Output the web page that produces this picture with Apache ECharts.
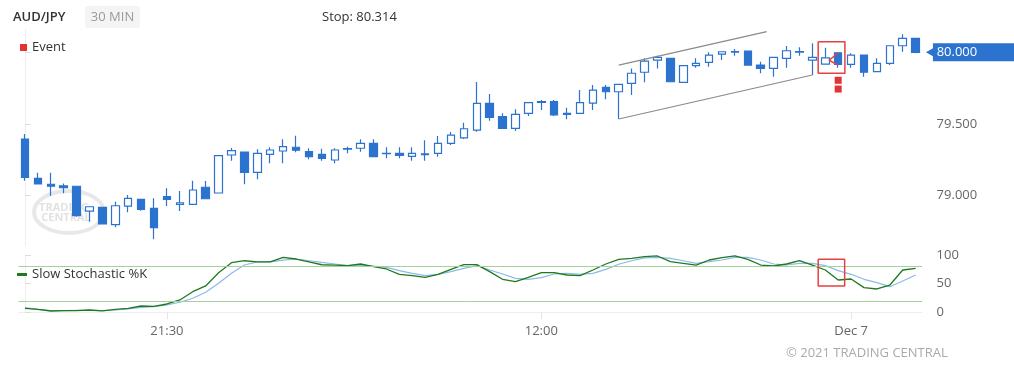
<!DOCTYPE html>
<html>
<head>
<meta charset="utf-8">
<script src="https://cdn.jsdelivr.net/npm/echarts@6/dist/echarts.min.js"></script>
<style>
html,body{margin:0;padding:0;background:#fff;}
#main{width:1014px;height:367px;}
</style>
</head>
<body>
<div id="main"></div>
<script>
// ---------- data ----------
const symbolName = 'AUD/JPY';
const timeframe = '30 MIN';
const stopLevel = 80.314;

const startTime = Date.UTC(2021, 11, 5, 16, 0);
const categories = Array.from({length: 70}, (_, i) => {
  const d = new Date(startTime + i * 30 * 60000);
  const p = n => String(n).padStart(2, '0');
  return d.getUTCFullYear() + '-' + p(d.getUTCMonth() + 1) + '-' + p(d.getUTCDate()) + ' ' + p(d.getUTCHours()) + ':' + p(d.getUTCMinutes());
});
const tickCategories = ['2021-12-05 21:30', '2021-12-06 12:00', '2021-12-07 00:00'];
const tickLabels = ['21:30', '12:00', 'Dec 7'];

const opens = [79.395,79.121,79.080,79.068,79.066,78.893,78.919,78.798,78.928,78.975,
  78.912,78.993,78.940,78.940,79.059,79.019,79.284,79.305,79.163,79.289,
  79.312,79.338,79.307,79.289,79.249,79.324,79.331,79.365,79.296,79.296,
  79.275,79.287,79.296,79.365,79.404,79.458,79.644,79.551,79.470,79.575,
  79.651,79.656,79.575,79.575,79.646,79.756,79.725,79.784,79.861,79.946,
  79.958,79.791,79.907,79.930,79.988,80.002,80.009,79.911,79.888,79.958,
  80.002,79.946,79.918,79.997,79.916,79.981,79.865,79.923,80.046,80.098];
const closes = [79.128,79.082,79.066,79.056,78.861,78.923,78.803,78.930,78.982,78.905,
  78.777,78.975,78.951,79.040,78.979,79.279,79.314,79.163,79.296,79.319,
  79.342,79.317,79.272,79.261,79.319,79.328,79.365,79.272,79.294,79.282,
  79.296,79.292,79.365,79.423,79.467,79.644,79.547,79.470,79.568,79.649,
  79.656,79.563,79.568,79.649,79.737,79.725,79.777,79.854,79.939,79.965,
  79.795,79.907,79.923,79.981,80.004,80.006,79.911,79.888,79.965,80.011,
  80.006,79.965,79.962,79.916,79.981,79.861,79.923,80.046,80.098,80.000];
const lows = [79.105,79.082,79.000,79.017,78.854,78.819,78.803,78.780,78.884,78.895,
  78.696,78.928,78.893,78.940,78.975,79.019,79.244,79.080,79.114,79.226,
  79.226,79.303,79.254,79.244,79.226,79.296,79.307,79.272,79.261,79.261,
  79.244,79.244,79.272,79.354,79.395,79.446,79.523,79.470,79.451,79.556,
  79.598,79.556,79.533,79.575,79.598,79.672,79.535,79.702,79.791,79.888,
  79.795,79.791,79.893,79.900,79.946,79.976,79.911,79.854,79.830,79.893,
  79.976,79.842,79.918,79.893,79.893,79.830,79.865,79.911,80.004,79.993];
const highs = [79.430,79.160,79.160,79.086,79.066,78.923,78.919,78.958,79.005,78.975,
  78.982,79.052,79.033,79.105,79.103,79.279,79.333,79.305,79.324,79.338,
  79.393,79.418,79.331,79.328,79.331,79.342,79.393,79.393,79.338,79.338,
  79.338,79.386,79.416,79.444,79.509,79.793,79.709,79.575,79.603,79.649,
  79.667,79.667,79.614,79.737,79.772,79.772,79.777,79.888,79.958,79.976,
  79.958,79.907,79.958,80.000,80.004,80.023,80.009,79.934,79.965,80.044,
  80.035,80.063,80.032,79.997,79.993,79.981,79.958,80.046,80.126,80.098];

const stochK = [7,5,2.3,3,3,4,2.5,5,7,11,10.5,14.5,21.5,36,46,69,86.6,90,88,88,96,93,88,83,
  82.5,81.4,84.3,79.6,75.6,66.3,63.9,61,66.3,75,83.1,83.1,70.9,57.6,53.4,61,69.1,69.1,65.1,63.9,73.8,84.3,92.5,94.2,
  97,98.3,88.3,85.5,82.5,91.3,95.3,98.3,92.5,82.5,80.8,84.3,90,82.5,73.8,56.4,58.1,43,40.7,47.6,73.8,76.8];
const stochD = [8,5,3,3,3.5,3.5,3,4,6,8.5,10,13,17.5,24.5,35,50.6,68,82.5,88,88,91,93,90,87,
  84.3,81.4,82.5,80.8,78.5,72.7,68,63.9,66.3,70.9,76.7,81.4,73.8,66.9,59.3,57.6,60.4,66.9,68,66.3,68,75,83.8,90,
  95,96,94.2,90,85.5,88.3,91.3,96,96,91.3,84.3,82.5,85.5,85.5,81.4,72.7,66.3,57.6,51.7,44.7,54.6,65.1];
const stochLevels = [80, 20];

const priceTicks = [79.0, 79.5, 80.0];
const stochTicks = [0, 50, 100];

const eventPoints = [[63, 79.805], [63, 79.744]];
// drawing annotations in data space (index, price)
const channelUpper = [[46, 79.911], [57.46, 80.144]];
const channelLower = [[46, 79.535], [61, 79.842]];
const alertBox = [[61.45, 80.074], [63.52, 80.074], [63.52, 79.854], [61.45, 79.854], [61.45, 80.074]];
const alertWedge = [[62.95, 79.993], [62.3, 79.945], [62.95, 79.913]];
const stochBox = [[61.45, 92.5], [63.5, 92.5], [63.5, 45.9], [61.45, 45.9], [61.45, 92.5]];

// ---------- chart ----------
const FONT = 'Open Sans';
const BLUE = '#2b73cf';
const RED = '#e8403f';
const lastIdx = closes.length - 1;
const lastClose = closes[lastIdx];
const candleData = opens.map((o, i) => [o, closes[i], lows[i], highs[i]]);

const chart = echarts.init(document.getElementById('main'), null, {renderer: 'canvas'});
const gridL = 18.5, gridR = 91.9;

const option = {
  animation: false,
  textStyle: {fontFamily: FONT},
  grid: [
    {left: gridL, right: gridR, top: 29.4, height: 216.5},
    {left: gridL, right: gridR, top: 255, height: 57.3}
  ],
  legend: [
    {data: ['Event'], left: 20, top: 41, padding: 0, icon: 'rect', itemWidth: 7, itemHeight: 7,
      textStyle: {color: '#333', fontSize: 13, fontFamily: FONT}, selectedMode: false},
    {data: ['Slow Stochastic %K'], left: 17, top: 268, padding: 0, icon: 'rect', itemWidth: 10, itemHeight: 3,
      textStyle: {color: '#333', fontSize: 13, fontFamily: FONT}, selectedMode: false}
  ],
  xAxis: [
    {type: 'category', gridIndex: 0, data: categories, boundaryGap: true, show: false},
    {type: 'category', gridIndex: 1, data: categories, boundaryGap: true,
      axisLine: {show: true, lineStyle: {color: '#eeeeee'}},
      axisTick: {show: true, alignWithLabel: true, length: 7, lineStyle: {color: '#e6e6e6'},
        interval: (i, v) => tickCategories.includes(v)},
      axisLabel: {show: true, color: '#666', fontSize: 13, margin: 12, fontFamily: FONT,
        interval: (i, v) => tickCategories.includes(v),
        formatter: v => { const k = tickCategories.indexOf(v); return k >= 0 ? tickLabels[k] : ''; }},
      splitLine: {show: false}},
    {type: 'value', gridIndex: 0, min: -0.5, max: lastIdx + 0.5, show: false},
    {type: 'value', gridIndex: 1, min: -0.5, max: lastIdx + 0.5, show: false}
  ],
  yAxis: [
    {type: 'value', gridIndex: 0, position: 'right', offset: 3.5, min: 78.65, max: 80.16, scale: true,
      axisLine: {show: true, lineStyle: {color: '#eeeeee'}},
      axisTick: {show: true, length: 6, lineStyle: {color: '#dddddd'}, customValues: priceTicks},
      axisLabel: {color: '#666', fontSize: 13, margin: 11, fontFamily: FONT, customValues: priceTicks,
        formatter: v => v.toFixed(3)},
      splitLine: {show: false}},
    {type: 'value', gridIndex: 1, position: 'right', offset: 3.5, min: 0, max: 100, interval: 50,
      axisLine: {show: true, lineStyle: {color: '#eeeeee'}},
      axisTick: {show: true, length: 6, lineStyle: {color: '#dddddd'}},
      axisLabel: {color: '#666', fontSize: 13, margin: 11, fontFamily: FONT},
      splitLine: {show: false}}
  ],
  series: [
    {
      name: 'Price', type: 'candlestick', xAxisIndex: 0, yAxisIndex: 0, data: candleData,
      barWidth: 8,
      itemStyle: {color: '#ffffff', color0: BLUE, borderColor: BLUE, borderColor0: BLUE, borderWidth: 1.2},
      markPoint: {
        silent: true,
        symbol: 'path://M0,9 L7,5 L7,0 L96,0 L96,18 L7,18 L7,13 Z',
        symbolSize: [96, 18],
        symbolKeepAspect: false,
        symbolOffset: [58.3, 0],
        itemStyle: {color: BLUE},
        label: {show: true, position: 'inside', offset: [-17, 0], color: '#fff', fontSize: 13, fontFamily: FONT,
          formatter: () => lastClose.toFixed(3)},
        data: [{coord: [lastIdx, lastClose]}]
      }
    },
    {name: 'Event', type: 'scatter', xAxisIndex: 0, yAxisIndex: 0, data: eventPoints,
      symbol: 'rect', symbolSize: 7, itemStyle: {color: '#dd0000'}, silent: true},
    {name: 'chanU', type: 'line', xAxisIndex: 2, yAxisIndex: 0, data: channelUpper, symbol: 'none', silent: true,
      lineStyle: {color: '#8a8a8a', width: 1.2}},
    {name: 'chanL', type: 'line', xAxisIndex: 2, yAxisIndex: 0, data: channelLower, symbol: 'none', silent: true,
      lineStyle: {color: '#8a8a8a', width: 1.2}},
    {name: 'box', type: 'line', xAxisIndex: 2, yAxisIndex: 0, data: alertBox, symbol: 'none', silent: true,
      lineStyle: {color: RED, width: 1.5}, z: 5},
    {name: 'wedge', type: 'line', xAxisIndex: 2, yAxisIndex: 0, data: alertWedge, symbol: 'none', silent: true,
      lineStyle: {color: RED, width: 1.5}, z: 5},
    {name: 'Slow Stochastic %D', type: 'line', xAxisIndex: 1, yAxisIndex: 1, data: stochD, symbol: 'none', silent: true,
      lineStyle: {color: '#8cb9ea', width: 1.2}, itemStyle: {color: '#8cb9ea'}},
    {name: 'Slow Stochastic %K', type: 'line', xAxisIndex: 1, yAxisIndex: 1, data: stochK, symbol: 'none', silent: true,
      lineStyle: {color: '#1f7a1f', width: 1.3}, itemStyle: {color: '#1f7a1f'},
      markLine: {silent: true, symbol: 'none', label: {show: false},
        lineStyle: {color: '#a6d09e', width: 1, type: 'solid'},
        data: stochLevels.map(v => ({yAxis: v}))}},
    {name: 'sbox', type: 'line', xAxisIndex: 3, yAxisIndex: 1, data: stochBox, symbol: 'none', silent: true,
      lineStyle: {color: RED, width: 1.5}, z: 5}
  ],
  graphic: [
    {type: 'rect', shape: {x: 85, y: 6, width: 55, height: 22, r: 3}, style: {fill: '#f4f4f4'}, z: 0},
    {type: 'text', x: 13, y: 17, style: {text: symbolName, fill: '#333', font: '600 13px "Open Sans"', textVerticalAlign: 'middle'}},
    {type: 'text', x: 112.5, y: 17, style: {text: timeframe, fill: '#9a9a9a', font: '13px "Open Sans"', textAlign: 'center', textVerticalAlign: 'middle'}},
    {type: 'text', x: 322, y: 17, style: {text: 'Stop: ' + stopLevel.toFixed(3), fill: '#333', font: '13px "Open Sans"', textVerticalAlign: 'middle'}},
    {type: 'text', x: 786, y: 353, style: {text: '\u00A9 2021 TRADING CENTRAL', fill: '#aaaaaa', font: '13px "Open Sans"', textVerticalAlign: 'middle'}},
    {type: 'ellipse', shape: {cx: 69, cy: 212, rx: 35, ry: 21}, style: {fill: 'none', stroke: '#e8e8e8', lineWidth: 4}, z: 0},
    {type: 'text', x: 64, y: 208, style: {text: 'TRADING', fill: '#e2e2e2', font: 'bold 11px "Open Sans"', textAlign: 'center', textVerticalAlign: 'middle'}, z: 0},
    {type: 'text', x: 66, y: 218, style: {text: 'CENTRAL', fill: '#e2e2e2', font: 'bold 11px "Open Sans"', textAlign: 'center', textVerticalAlign: 'middle'}, z: 0}
  ]
};
chart.setOption(option);
</script>
</body>
</html>
